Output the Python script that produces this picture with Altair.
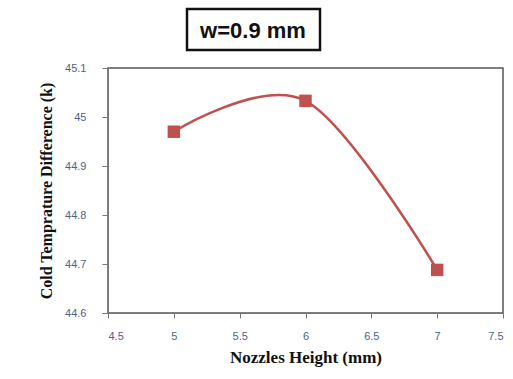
import altair as alt
import pandas as pd

nozzle_height = [5, 6, 7]
cold_temp_diff = [44.97, 45.033, 44.688]
x_ticks = [4.5, 5, 5.5, 6, 6.5, 7, 7.5]
y_ticks = [44.6, 44.7, 44.8, 44.9, 45.0, 45.1]
title_text = "w=0.9 mm"

df = pd.DataFrame({"h": nozzle_height, "d": cold_temp_diff})

RED = "#C0504D"
LABEL = "#4F6189"

x_enc = alt.X("h:Q", scale=alt.Scale(domain=[4.5, 7.5], nice=False, zero=False),
              axis=alt.Axis(values=x_ticks, format="~f", title="Nozzles Height (mm)",
                            grid=False, domainColor="#777", tickColor="#777", tickSize=5,
                            labelColor=LABEL, labelFont="Liberation Sans", labelFontSize=11,
                            labelPadding=12, titleFont="Liberation Serif", titleFontSize=17,
                            titleFontWeight="bold", titleColor="#111", titlePadding=8))
y_enc = alt.Y("d:Q", scale=alt.Scale(domain=[44.6, 45.1], nice=False, zero=False),
              axis=alt.Axis(values=y_ticks, format="~f", title="Cold Temprature Difference (k)",
                            grid=False, domainColor="#777", tickColor="#777", tickSize=6,
                            labelColor=LABEL, labelFont="Liberation Sans", labelFontSize=11,
                            labelPadding=16, titleFont="Liberation Serif", titleFontSize=16,
                            titleFontWeight="bold", titleColor="#111", titlePadding=10))

line = alt.Chart(df).mark_line(color=RED, strokeWidth=2.5, interpolate="cardinal").encode(x=x_enc, y=y_enc)
pts = alt.Chart(df).mark_point(shape="square", filled=True, color=RED, size=155, opacity=1).encode(x="h:Q", y="d:Q")

box = alt.Chart(pd.DataFrame({"t": [title_text]})).mark_rect(
    fill="white", stroke="#111", strokeWidth=2.5, clip=False
).encode(x=alt.value(79), x2=alt.value(212), y=alt.value(-59), y2=alt.value(-18))
txt = alt.Chart(pd.DataFrame({"t": [title_text]})).mark_text(
    font="Liberation Sans", fontSize=22, fontWeight="bold", color="#111", align="center",
    baseline="middle", clip=False
).encode(x=alt.value(145), y=alt.value(-37), text="t:N")

chart = alt.layer(line, pts, box, txt).properties(
    width=395, height=245,
    padding={"left": 108, "top": 68, "right": 10, "bottom": 66},
    autosize=alt.AutoSizeParams(type="none"),
    background="white",
).configure_view(stroke="#555", strokeWidth=1.5)

chart.save("out.html", embed_options={"renderer": "svg", "actions": False})
